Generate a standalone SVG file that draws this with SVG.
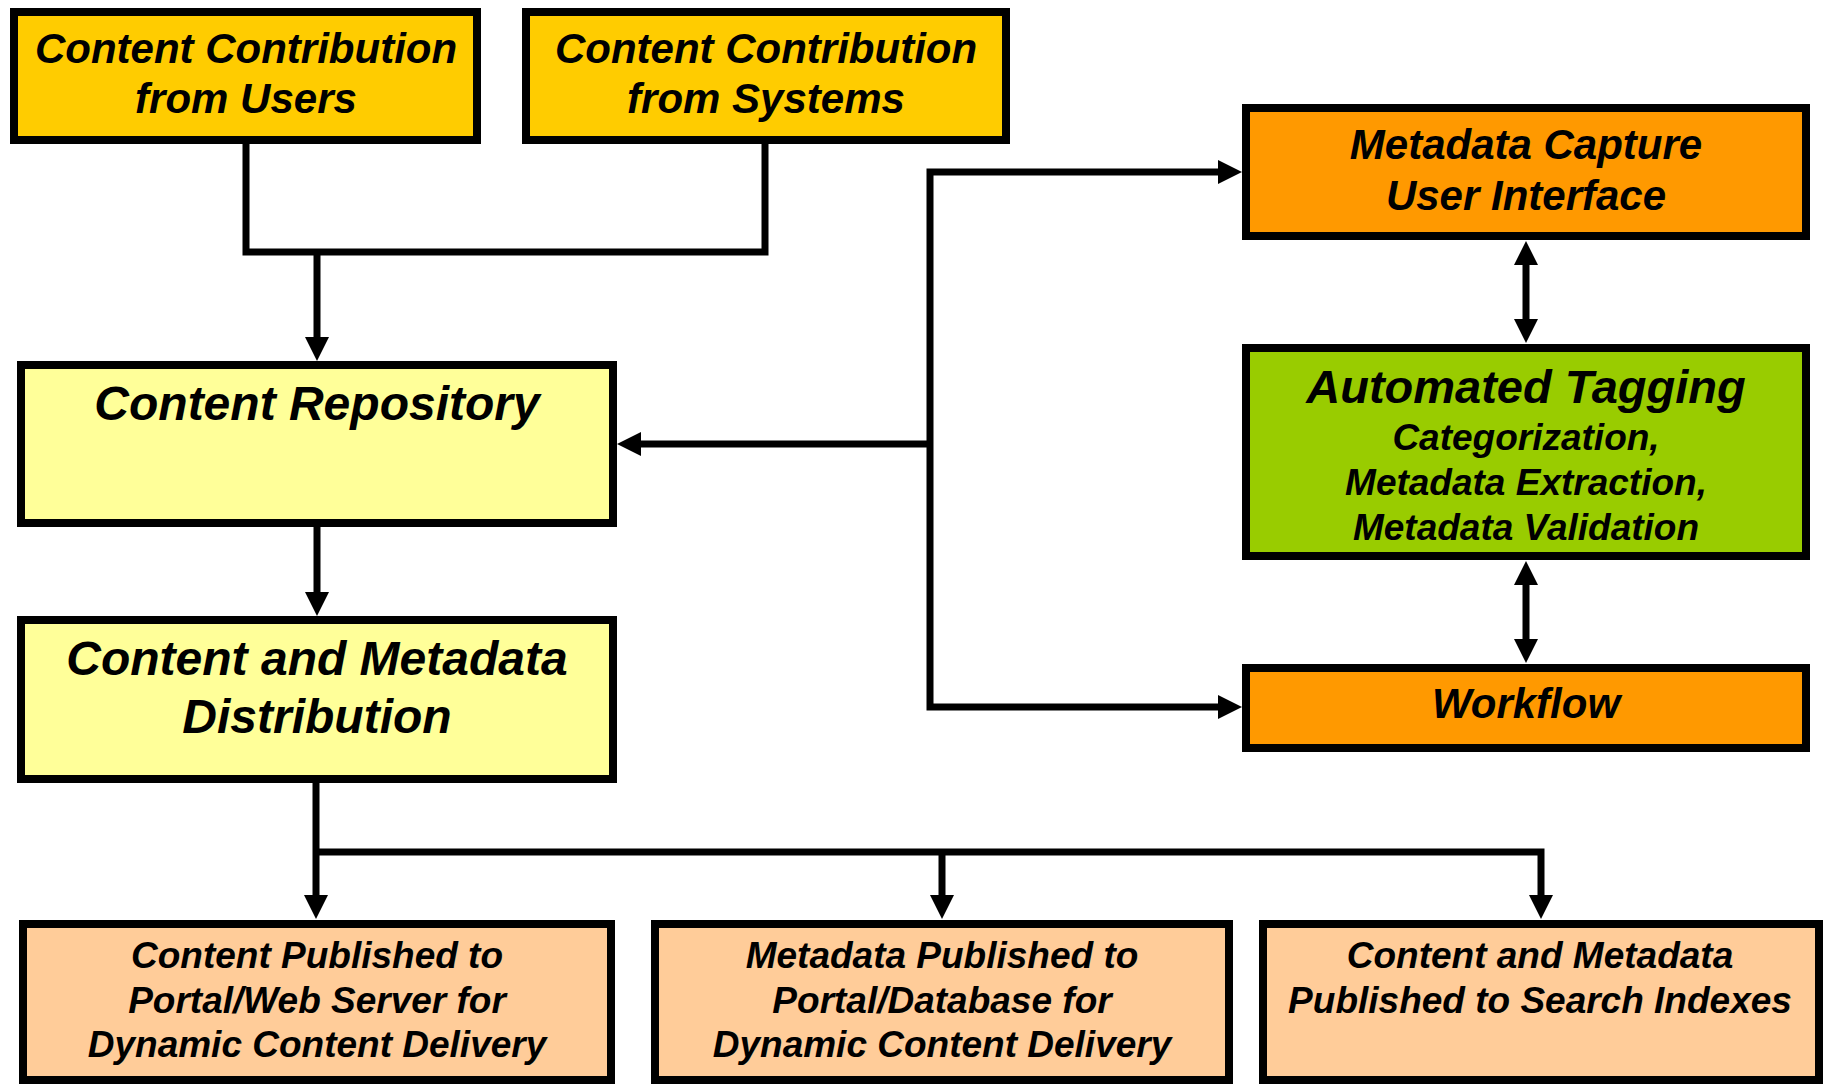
<svg xmlns="http://www.w3.org/2000/svg" width="1824" height="1084" viewBox="0 0 1824 1084">
<style>
.box{stroke:#000;stroke-width:8}
.t{font-family:"Liberation Sans",Arial,sans-serif;font-weight:bold;font-style:italic;text-anchor:middle;fill:#000}
.conn{fill:none;stroke:#000;stroke-width:7;stroke-linejoin:miter;stroke-linecap:butt}
</style>
<defs>
<marker id="ah" markerUnits="userSpaceOnUse" markerWidth="26" markerHeight="24" refX="2" refY="12" orient="auto-start-reverse">
<path d="M0,0 L24,12 L0,24 z" fill="#000"/>
</marker>
</defs>
<rect width="1824" height="1084" fill="#fff"/>
<g id="connectors">
<polyline class="conn" points="246,144 246,252 765,252 765,144"/>
<path class="conn" d="M317,252 V339" marker-end="url(#ah)"/>
<path class="conn" d="M317,527 V594" marker-end="url(#ah)"/>
<path class="conn" d="M1220,172 H930 V707 H1220" marker-start="url(#ah)" marker-end="url(#ah)"/>
<path class="conn" d="M930,444 H639" marker-end="url(#ah)"/>
<path class="conn" d="M1526,263 V321" marker-start="url(#ah)" marker-end="url(#ah)"/>
<path class="conn" d="M1526,583 V641" marker-start="url(#ah)" marker-end="url(#ah)"/>
<path class="conn" d="M316,783 V897" marker-end="url(#ah)"/>
<path class="conn" d="M316,852 H1541 V897" marker-end="url(#ah)"/>
<path class="conn" d="M942,852 V897" marker-end="url(#ah)"/>
</g>
<g id="users">
<rect class="box" x="14" y="12" width="463" height="128" fill="#FFCC00"/>
<text class="t" font-size="42" x="246" y="63">Content Contribution</text>
<text class="t" font-size="42" x="246" y="113">from Users</text>
</g>
<g id="systems">
<rect class="box" x="526" y="12" width="480" height="128" fill="#FFCC00"/>
<text class="t" font-size="42" x="766" y="63">Content Contribution</text>
<text class="t" font-size="42" x="766" y="113">from Systems</text>
</g>
<g id="metadata-capture">
<rect class="box" x="1246" y="108" width="560" height="128" fill="#FF9900"/>
<text class="t" font-size="42" x="1526" y="159">Metadata Capture</text>
<text class="t" font-size="42" x="1526" y="210">User Interface</text>
</g>
<g id="automated-tagging">
<rect class="box" x="1246" y="348" width="560" height="208" fill="#99CC00"/>
<text class="t" font-size="47" x="1526" y="403">Automated Tagging</text>
<text class="t" font-size="37" x="1526" y="450">Categorization,</text>
<text class="t" font-size="37" x="1526" y="495">Metadata Extraction,</text>
<text class="t" font-size="37" x="1526" y="540">Metadata Validation</text>
</g>
<g id="workflow">
<rect class="box" x="1246" y="668" width="560" height="80" fill="#FF9900"/>
<text class="t" font-size="42" x="1526" y="718">Workflow</text>
</g>
<g id="repository">
<rect class="box" x="21" y="365" width="592" height="158" fill="#FFFF99"/>
<text class="t" font-size="48" x="317" y="420">Content Repository</text>
</g>
<g id="distribution">
<rect class="box" x="21" y="620" width="592" height="159" fill="#FFFF99"/>
<text class="t" font-size="48" x="317" y="675">Content and Metadata</text>
<text class="t" font-size="48" x="317" y="733">Distribution</text>
</g>
<g id="published-content">
<rect class="box" x="23" y="924" width="588" height="156" fill="#FFCC99"/>
<text class="t" font-size="37" x="317" y="968">Content Published to</text>
<text class="t" font-size="37" x="317" y="1013">Portal/Web Server for</text>
<text class="t" font-size="37" x="317" y="1057">Dynamic Content Delivery</text>
</g>
<g id="published-metadata">
<rect class="box" x="655" y="924" width="574" height="156" fill="#FFCC99"/>
<text class="t" font-size="37" x="942" y="968">Metadata Published to</text>
<text class="t" font-size="37" x="942" y="1013">Portal/Database for</text>
<text class="t" font-size="37" x="942" y="1057">Dynamic Content Delivery</text>
</g>
<g id="published-search">
<rect class="box" x="1263" y="924" width="556" height="156" fill="#FFCC99"/>
<text class="t" font-size="37" x="1540" y="968">Content and Metadata</text>
<text class="t" font-size="37" x="1540" y="1013">Published to Search Indexes</text>
</g>
</svg>
